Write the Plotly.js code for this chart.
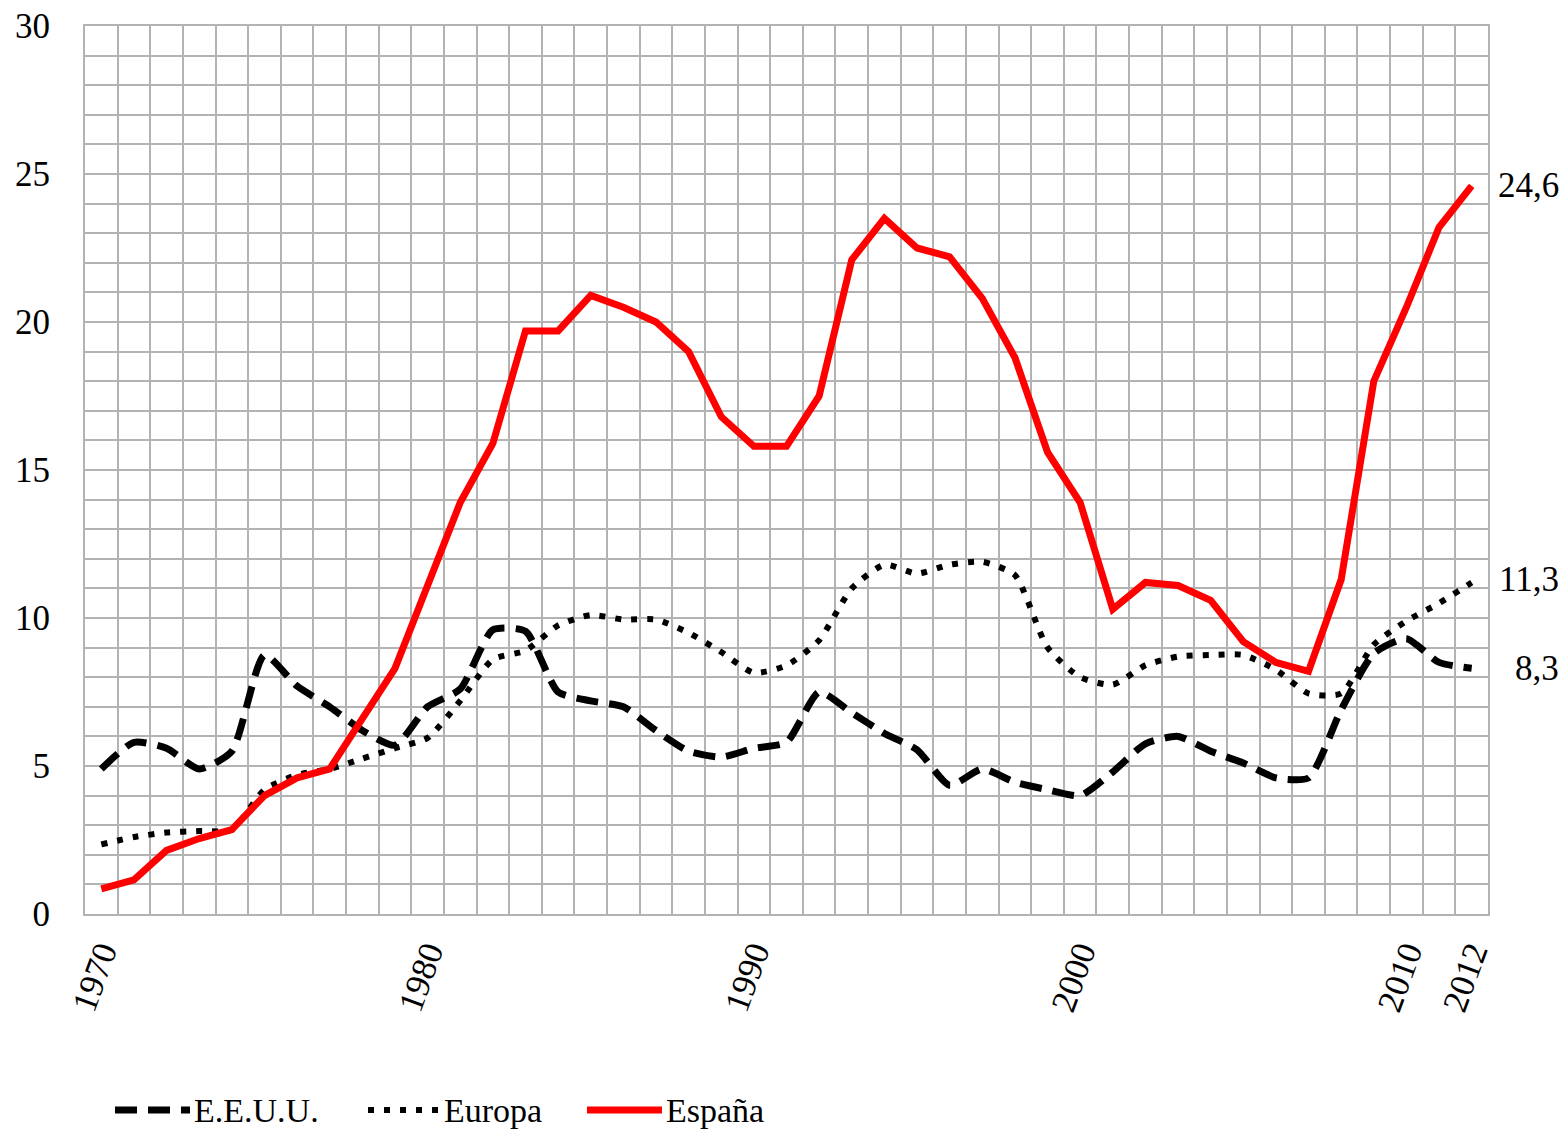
<!DOCTYPE html>
<html>
<head>
<meta charset="utf-8">
<script src="https://cdn.plot.ly/plotly-3.0.1.min.js"></script>
<style>
  html, body { margin: 0; padding: 0; background: #ffffff; }
  #chart { width: 1566px; height: 1131px; }
</style>
</head>
<body>
<div id="chart"></div>
<script>
const years = [];
for (let y = 1970; y <= 2012; y++) years.push(y);

const espana = [0.85, 1.15, 2.15, 2.55, 2.85, 4.0, 4.6, 4.9, 6.6, 8.3,
  11.1, 13.9, 15.9, 19.7, 19.7, 20.9, 20.5, 20.0, 19.0, 16.8,
  15.8, 15.8, 17.5, 22.1, 23.5, 22.5, 22.2, 20.8, 18.8, 15.6,
  13.9, 10.3, 11.2, 11.1, 10.6, 9.2, 8.5, 8.2, 11.3, 18.0,
  20.5, 23.2, 24.6];

const eeuu = [4.9, 5.8, 5.6, 4.9, 5.5, 8.75, 7.7, 7.0, 6.2, 5.7,
  7.0, 7.6, 9.6, 9.55, 7.5, 7.2, 7.0, 6.2, 5.5, 5.3,
  5.6, 5.8, 7.5, 6.8, 6.1, 5.55, 4.35, 4.9, 4.45, 4.2,
  4.0, 4.8, 5.75, 6.0, 5.5, 5.1, 4.6, 4.6, 6.9, 8.8,
  9.3, 8.5, 8.3];

const europa = [2.35, 2.6, 2.75, 2.8, 2.85, 4.2, 4.7, 4.9, 5.25, 5.6,
  5.95, 7.2, 8.6, 8.9, 9.75, 10.1, 9.95, 9.95, 9.5, 8.85,
  8.15, 8.4, 9.25, 11.0, 11.8, 11.5, 11.8, 11.9, 11.45, 9.0,
  8.0, 7.75, 8.4, 8.7, 8.75, 8.75, 8.25, 7.45, 7.45, 9.1,
  9.9, 10.5, 11.2];

const seriesNames = ["E.E.U.U.", "Europa", "España"];
const xTickVals = [1970, 1980, 1990, 2000, 2010, 2012];
const endLabels = ["24,6", "11,3", "8,3"];
const endLabelValues = [24.6, 11.3, 8.3];

const FONT = "Liberation Serif, Times New Roman, serif";
const GRID = "#b3b3b3";

const styles = [
  { color: "#000000", width: 7, dash: "22px,11px" },
  { color: "#000000", width: 6, dash: "6px,10px" },
  { color: "#ff0000", width: 7, dash: "solid" }
];
const seriesData = [eeuu, europa, espana];

const traces = seriesData.map((vals, i) => ({
  x: years, y: vals, name: seriesNames[i], type: "scatter", mode: "lines",
  showlegend: false,
  line: Object.assign({}, styles[i], i < 2 ? { shape: "spline", smoothing: 0.6 } : {})
}));

// plot area in pixels (for legend placement in paper coords)
const PL = 85, PR = 1488, PT = 26, PB = 914;
const px = v => (v - PL) / (PR - PL);
const py = v => (PB - v) / (PB - PT);

const legendItems = [
  { x0: 115, x1: 190, tx: 192 },
  { x0: 368, x1: 440, tx: 442 },
  { x0: 587, x1: 662, tx: 664 }
];
const legendY = 1110;

const shapes = legendItems.map((it, i) => ({
  type: "line", xref: "paper", yref: "paper",
  x0: px(it.x0), x1: px(it.x1), y0: py(legendY), y1: py(legendY),
  line: { color: styles[i].color, width: styles[i].width, dash: styles[i].dash }
}));

const annotations = endLabels.map((t, i) => ({
  x: years[years.length - 1], y: endLabelValues[i], xref: "x", yref: "y",
  text: t, showarrow: false, xanchor: "right", yanchor: "middle", xshift: 89,
  font: { family: FONT, size: 35, color: "#000000" }
})).concat(legendItems.map((it, i) => ({
  x: px(it.tx), y: py(legendY), xref: "paper", yref: "paper",
  text: seriesNames[i], showarrow: false, xanchor: "left", yanchor: "middle",
  font: { family: FONT, size: 34, color: "#000000" }
})));

const layout = {
  width: 1566, height: 1131,
  paper_bgcolor: "#ffffff", plot_bgcolor: "#ffffff",
  margin: { l: PL, r: 1566 - PR, t: PT, b: 1131 - PB, autoexpand: false },
  showlegend: false,
  xaxis: {
    range: [1969.5, 2012.5], automargin: false,
    tickmode: "array", tickvals: xTickVals, ticktext: xTickVals.map(String),
    tickangle: -70, ticks: "", ticklabelstandoff: 2,
    tickfont: { family: FONT, size: 35, color: "#000000" },
    showgrid: false, zeroline: false,
    showline: true, mirror: true, linecolor: GRID, linewidth: 2,
    minor: { tick0: 1969.5, dtick: 1, showgrid: true, gridcolor: GRID, gridwidth: 2, ticks: "" }
  },
  yaxis: {
    range: [0, 30], dtick: 5, tick0: 0, ticks: "", ticklabelstandoff: 26, automargin: false,
    tickfont: { family: FONT, size: 35, color: "#000000" },
    showgrid: true, gridcolor: GRID, gridwidth: 2, zeroline: false,
    showline: true, mirror: true, linecolor: GRID, linewidth: 2,
    minor: { tick0: 0, dtick: 1, showgrid: true, gridcolor: GRID, gridwidth: 2, ticks: "" }
  },
  shapes: shapes,
  annotations: annotations
};

Plotly.newPlot("chart", traces, layout, { displayModeBar: false, staticPlot: true });
</script>
</body>
</html>
